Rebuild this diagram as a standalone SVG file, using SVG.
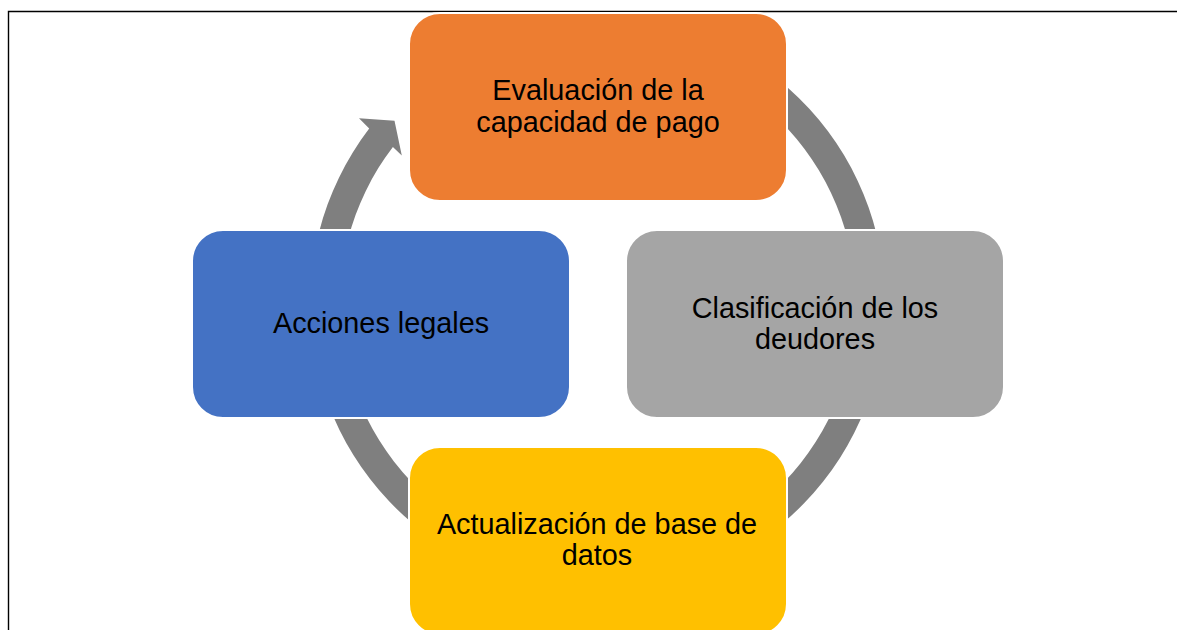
<svg xmlns="http://www.w3.org/2000/svg" width="1177" height="630" viewBox="0 0 1177 630">
<style>
.box{stroke:#ffffff;stroke-width:2}
.lbl{font-family:"Liberation Sans",Arial,sans-serif;font-size:28.8px;fill:#000000;text-anchor:middle}
.ring{fill:#7f7f7f}
.frame{stroke:#000000;stroke-width:1.4;fill:none}
</style>
<rect width="1177" height="630" fill="#ffffff"/>
<path class="frame" d="M 8.5 630 L 8.5 11.5 L 1177 11.5"/>
<g id="connectors">
<path class="ring" d="M 741.75 54.52 A 287.5 287.5 0 1 1 369.2 128.6 L 359 118.3 L 394.5 120.8 L 401.8 155.5 L 392.9 146.9 A 258 258 0 1 0 727 80.1 Z"/>
</g>
<g id="node-evaluacion">
<rect class="box" x="409" y="13" width="378" height="188" rx="31" fill="#ed7d31"/>
<text class="lbl" x="598" y="100">Evaluación de la</text>
<text class="lbl" x="598" y="132">capacidad de pago</text>
</g>
<g id="node-clasificacion">
<rect class="box" x="626" y="230" width="378" height="188" rx="31" fill="#a5a5a5"/>
<text class="lbl" x="815" y="318">Clasificación de los</text>
<text class="lbl" x="815" y="349">deudores</text>
</g>
<g id="node-actualizacion">
<rect class="box" x="409" y="447" width="378" height="188" rx="31" fill="#ffc000"/>
<text class="lbl" x="597" y="534">Actualización de base de</text>
<text class="lbl" x="597" y="565">datos</text>
</g>
<g id="node-acciones">
<rect class="box" x="192" y="230" width="378" height="188" rx="31" fill="#4472c4"/>
<text class="lbl" x="381" y="333">Acciones legales</text>
</g>
</svg>
